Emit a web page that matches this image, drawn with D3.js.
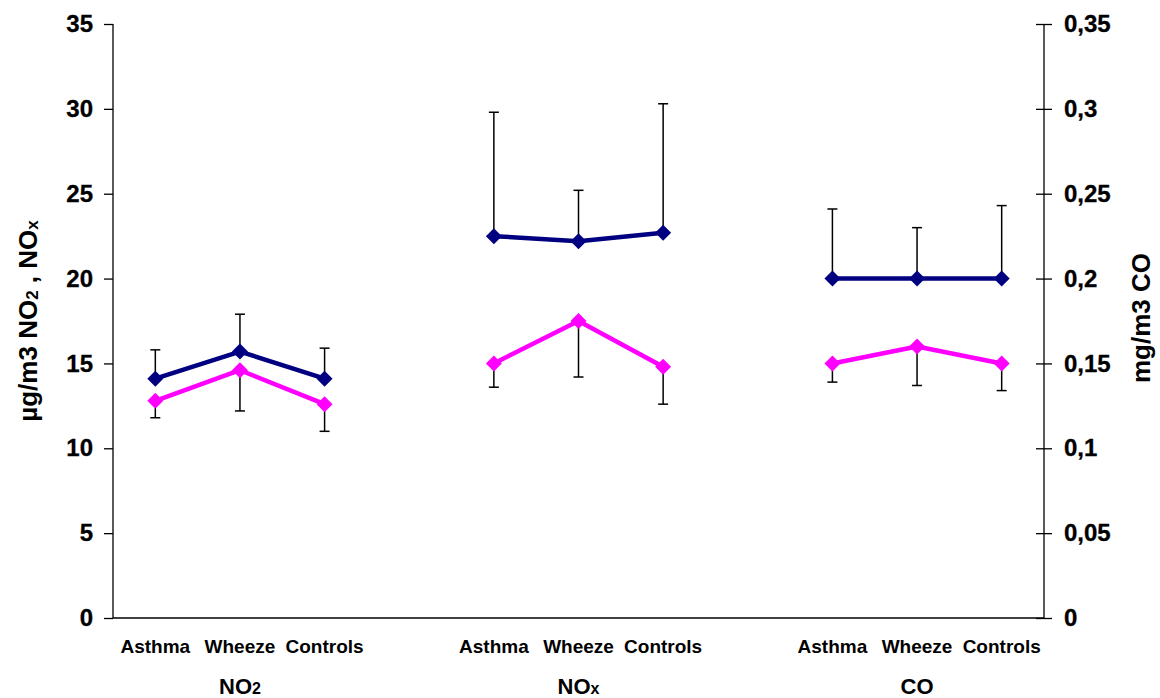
<!DOCTYPE html>
<html>
<head>
<meta charset="utf-8">
<script src="https://cdn.jsdelivr.net/npm/d3@7"></script>
<style>
  html, body { margin: 0; padding: 0; background: #fff; }
  svg { display: block; font-family: "Liberation Sans", Arial, sans-serif; font-weight: bold; }
</style>
</head>
<body>
<svg id="chart" width="1160" height="698"></svg>
<script>
// Pollutant groups and subject categories
const groups = ["NO2", "NOx", "CO"];
const groupSub = [["NO", "2"], ["NO", "x"], ["CO", ""]];
const categories = ["Asthma", "Wheeze", "Controls"];

// Upper series (navy): means and upper error limits
const upperNO2 = [14.1, 15.7, 14.1];
const upperNOx = [22.5, 22.2, 22.7];
const upperCO = [0.20, 0.20, 0.20];
const upperNO2Hi = [15.8, 17.9, 15.9];
const upperNOxHi = [29.8, 25.2, 30.3];
const upperCOHi = [0.241, 0.23, 0.243];

// Lower series (magenta): means and lower error limits
const lowerNO2 = [12.8, 14.6, 12.6];
const lowerNOx = [15.0, 17.5, 14.8];
const lowerCO = [0.15, 0.16, 0.15];
const lowerNO2Lo = [11.8, 12.2, 11.0];
const lowerNOxLo = [13.6, 14.2, 12.6];
const lowerCOLo = [0.139, 0.137, 0.134];

// Axis ticks
const leftTicks = [0, 5, 10, 15, 20, 25, 30, 35];
const rightTicks = [0, 0.05, 0.1, 0.15, 0.2, 0.25, 0.3, 0.35];
const rightTickLabels = ["0", "0,05", "0,1", "0,15", "0,2", "0,25", "0,3", "0,35"];

const upperByGroup = [upperNO2, upperNOx, upperCO];
const upperHiByGroup = [upperNO2Hi, upperNOxHi, upperCOHi];
const lowerByGroup = [lowerNO2, lowerNOx, lowerCO];
const lowerLoByGroup = [lowerNO2Lo, lowerNOxLo, lowerCOLo];

const svg = d3.select("#chart");
const plot = { left: 113, right: 1044, top: 24, bottom: 618 };
const FONT = "Liberation Sans, Arial, sans-serif";

// 11 category slots: three per group with an empty slot between groups
const slots = [];
groups.forEach((g, gi) => {
  categories.forEach(c => slots.push(g + "|" + c));
  if (gi < groups.length - 1) slots.push("gap" + gi);
});
const x = d3.scaleBand().domain(slots).range([plot.left, plot.right]).padding(0);
const xc = key => x(key) + x.bandwidth() / 2;

const yLeft = d3.scaleLinear().domain([0, 35]).range([plot.bottom, plot.top]);
const yRight = d3.scaleLinear().domain([0, 0.35]).range([plot.bottom, plot.top]);
const yFor = gi => (groups[gi] === "CO" ? yRight : yLeft);

// Left axis
const leftAxis = svg.append("g")
  .attr("transform", `translate(${plot.left},0)`)
  .call(d3.axisLeft(yLeft).tickValues(leftTicks).tickSize(9).tickPadding(11).tickFormat(d3.format("d")));
leftAxis.select(".domain").attr("d", `M0,${plot.top}V${plot.bottom}`).attr("stroke", "#000").attr("stroke-width", 1.3);
leftAxis.selectAll(".tick line").attr("stroke", "#000").attr("stroke-width", 1.3);
leftAxis.selectAll(".tick text").attr("font-size", 24).attr("font-weight", "bold").attr("fill", "#000")
  .attr("stroke", "#000").attr("stroke-width", 0.3).attr("font-family", FONT);

// Right axis with ticks crossing the axis line
const rightAxis = svg.append("g")
  .attr("transform", `translate(${plot.right},0)`)
  .call(d3.axisRight(yRight).tickValues(rightTicks).tickSize(0).tickPadding(20)
    .tickFormat((d, i) => rightTickLabels[i]));
rightAxis.select(".domain").attr("d", `M0,${plot.top}V${plot.bottom}`).attr("stroke", "#000").attr("stroke-width", 1.3);
rightAxis.selectAll(".tick").append("line")
  .attr("x1", -8).attr("x2", 8).attr("stroke", "#000").attr("stroke-width", 1.3);
rightAxis.selectAll(".tick text").attr("font-size", 24).attr("font-weight", "bold").attr("fill", "#000")
  .attr("stroke", "#000").attr("stroke-width", 0.3).attr("font-family", FONT);

// Bottom axis line
svg.append("line")
  .attr("x1", plot.left).attr("x2", plot.right)
  .attr("y1", plot.bottom).attr("y2", plot.bottom)
  .attr("stroke", "#000").attr("stroke-width", 1.3);

// Category labels
groups.forEach(g => {
  categories.forEach(c => {
    svg.append("text")
      .attr("x", xc(g + "|" + c)).attr("y", 653)
      .attr("text-anchor", "middle").attr("font-size", 19)
      .text(c);
  });
});

// Group labels with subscripts
groups.forEach((g, gi) => {
  const mid = xc(g + "|" + categories[1]);
  const t = svg.append("text")
    .attr("x", mid).attr("y", 694)
    .attr("text-anchor", "middle").attr("font-size", 22);
  t.append("tspan").text(groupSub[gi][0]);
  if (groupSub[gi][1]) {
    t.append("tspan").attr("font-size", 16).text(groupSub[gi][1]);
  }
});

// Axis titles
const leftTitle = svg.append("text")
  .attr("transform", `translate(37,321) rotate(-90)`)
  .attr("text-anchor", "middle").attr("font-size", 26);
leftTitle.append("tspan").text("µg/m3 NO");
leftTitle.append("tspan").attr("font-size", 17).attr("dy", 1).text("2");
leftTitle.append("tspan").attr("dy", -1).text(" , NO");
leftTitle.append("tspan").attr("font-size", 17).attr("dy", 1).text("x");

svg.append("text")
  .attr("transform", `translate(1150,318) rotate(-90)`)
  .attr("text-anchor", "middle").attr("font-size", 26)
  .text("mg/m3 CO");

// Error bars: upper limits for the navy series, lower limits for the magenta series
const capHalf = 5;
const bars = svg.append("g").attr("stroke", "#000").attr("stroke-width", 1.5);
function errorBar(cx, yFrom, yTo) {
  bars.append("line").attr("x1", cx).attr("x2", cx).attr("y1", yFrom).attr("y2", yTo);
  bars.append("line").attr("x1", cx - capHalf).attr("x2", cx + capHalf).attr("y1", yTo).attr("y2", yTo);
}
groups.forEach((g, gi) => {
  const y = yFor(gi);
  categories.forEach((c, ci) => {
    const cx = xc(g + "|" + c);
    errorBar(cx, y(upperByGroup[gi][ci]), y(upperHiByGroup[gi][ci]));
    errorBar(cx, y(lowerByGroup[gi][ci]), y(lowerLoByGroup[gi][ci]));
  });
});

// Lines and diamond markers, one segment per group
function drawSeries(valuesByGroup, color) {
  groups.forEach((g, gi) => {
    const y = yFor(gi);
    const pts = categories.map((c, ci) => [xc(g + "|" + c), y(valuesByGroup[gi][ci])]);
    svg.append("path")
      .attr("d", d3.line()(pts))
      .attr("fill", "none").attr("stroke", color).attr("stroke-width", 4.5)
      .attr("stroke-linejoin", "round");
    svg.selectAll(null).data(pts).enter().append("path")
      .attr("d", d3.symbol().type(d3.symbolSquare).size(128))
      .attr("transform", d => `translate(${d[0]},${d[1]}) rotate(45)`)
      .attr("fill", color);
  });
}
drawSeries(upperByGroup, "#000080");
drawSeries(lowerByGroup, "#FF00FF");
</script>
</body>
</html>
